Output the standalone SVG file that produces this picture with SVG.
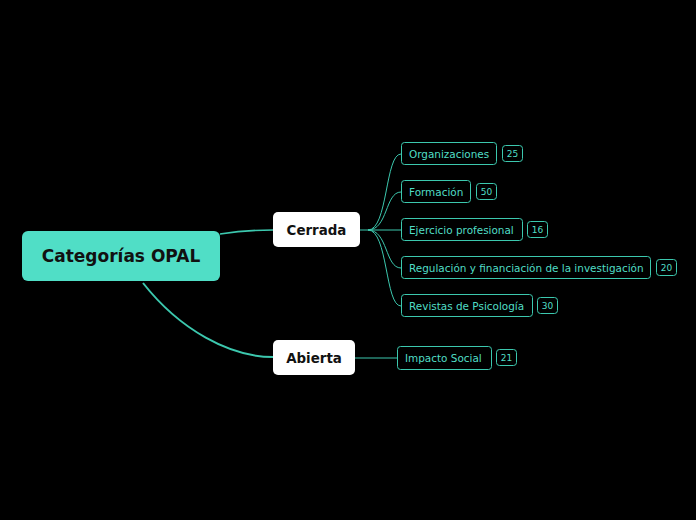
<svg xmlns="http://www.w3.org/2000/svg" width="696" height="520" viewBox="0 0 696 520">
<style>
.bg{fill:#000}
.root{fill:#50dec6}
.main{fill:#fff}
.sub{fill:#000;stroke:#3cc8ae;stroke-width:1}
.badge{fill:#000;stroke:#3cc8ae;stroke-width:1}
.t1{font-family:"DejaVu Sans",Verdana,sans-serif;font-weight:bold;font-size:17px;fill:#111;text-anchor:middle}
.t2{font-family:"DejaVu Sans",Verdana,sans-serif;font-weight:bold;font-size:13.4px;fill:#111;text-anchor:middle}
.t3{font-family:"DejaVu Sans",Verdana,sans-serif;font-size:10.45px;fill:#50dec6}
.t4{font-family:"DejaVu Sans",Verdana,sans-serif;font-size:9px;fill:#50dec6;text-anchor:middle}
.c{fill:none;stroke:#3cc8ae}
</style>
<rect class="bg" width="696" height="520"/>
<g id="connectors">
<path class="c" stroke-width="1.6" d="M220,234 C240,231 255,230 273,230"/>
<path class="c" stroke-width="2" d="M143,283 C180,330 230,357 273,357"/>
<path class="c" d="M360,230 L368,230"/>
<path class="c" d="M368,230 C388,230 385,154 401,154"/>
<path class="c" d="M368,230 C388,230 385,192 401,192"/>
<path class="c" d="M368,230 L401,230"/>
<path class="c" d="M368,230 C388,230 385,268 401,268"/>
<path class="c" d="M368,230 C388,230 385,306 401,306"/>
<path class="c" d="M355,358 L397,358"/>
</g>
<g id="root">
<rect class="root" x="22" y="231" width="198" height="50" rx="6"/>
<text class="t1" x="121" y="262">Categorías OPAL</text>
</g>
<g id="cerrada">
<rect class="main" x="273" y="212" width="87" height="35" rx="5"/>
<text class="t2" x="316.5" y="235">Cerrada</text>
</g>
<g id="abierta">
<rect class="main" x="273" y="340" width="82" height="35" rx="5"/>
<text class="t2" x="314" y="363">Abierta</text>
</g>
<g id="organizaciones">
<rect class="sub" x="401.5" y="142.5" width="95" height="22" rx="3"/>
<text class="t3" x="409" y="158">Organizaciones</text>
<rect class="badge" x="502.5" y="145.5" width="20" height="16" rx="3"/>
<text class="t4" x="512.5" y="156.5">25</text>
</g>
<g id="formacion">
<rect class="sub" x="401.5" y="180.5" width="69" height="22" rx="3"/>
<text class="t3" x="409" y="196">Formación</text>
<rect class="badge" x="476.5" y="183.5" width="20" height="16" rx="3"/>
<text class="t4" x="486.5" y="194.5">50</text>
</g>
<g id="ejercicio">
<rect class="sub" x="401.5" y="218.5" width="121" height="22" rx="3"/>
<text class="t3" x="409" y="234">Ejercicio profesional</text>
<rect class="badge" x="527.5" y="221.5" width="20" height="16" rx="3"/>
<text class="t4" x="537.5" y="232.5">16</text>
</g>
<g id="regulacion">
<rect class="sub" x="401.5" y="256.5" width="249" height="22" rx="3"/>
<text class="t3" x="409" y="272">Regulación y financiación de la investigación</text>
<rect class="badge" x="656.5" y="259.5" width="20" height="16" rx="3"/>
<text class="t4" x="666.5" y="270.5">20</text>
</g>
<g id="revistas">
<rect class="sub" x="401.5" y="294.5" width="131" height="22" rx="3"/>
<text class="t3" x="409" y="310">Revistas de Psicología</text>
<rect class="badge" x="537.5" y="297.5" width="20" height="16" rx="3"/>
<text class="t4" x="547.5" y="308.5">30</text>
</g>
<g id="impacto">
<rect class="sub" x="397.5" y="346.5" width="94" height="23" rx="3"/>
<text class="t3" x="405" y="362">Impacto Social</text>
<rect class="badge" x="496.5" y="349.5" width="20" height="16" rx="3"/>
<text class="t4" x="506.5" y="360.5">21</text>
</g>
</svg>
